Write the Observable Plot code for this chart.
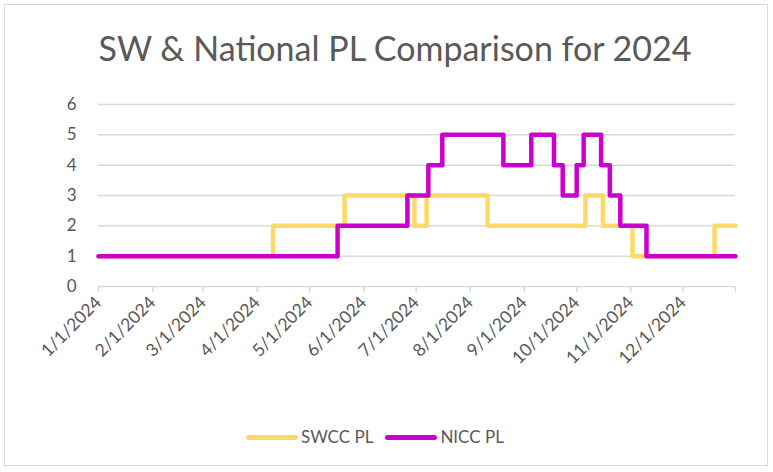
<!DOCTYPE html>
<html>
<head>
<meta charset="utf-8">
<script src="https://cdn.jsdelivr.net/npm/d3@7"></script>
<script src="https://cdn.jsdelivr.net/npm/@observablehq/plot@0.6"></script>
<style>
  html, body { margin: 0; padding: 0; background: #fff; }
  #wrap { position: relative; width: 773px; height: 472px; overflow: hidden; font-family: Lato, "Open Sans", sans-serif; color: #595959; }
  #frame { position: absolute; left: 4px; top: 4px; width: 764px; height: 462px; border: 1px solid #d9d9d9; box-sizing: border-box; pointer-events: none; }
  #title { position: absolute; left: 0; top: 26px; width: 790px; text-align: center; font-size: 34px; line-height: 44px; color: #595959; }
  #chart { position: absolute; left: 0; top: 90px; }
  #legend { position: absolute; left: 246px; top: 426px; font-size: 17px; line-height: 22px; white-space: nowrap; }
  .sw { display: inline-block; width: 52px; height: 5px; border-radius: 2.5px; vertical-align: middle; margin-right: 3px; position: relative; top: -1px; }
  .item { display: inline-block; margin-right: 12px; }
</style>
</head>
<body>
<div id="wrap">
  <div id="frame"></div>
  <div id="title">SW &amp; National PL Comparison for 2024</div>
  <div id="chart"></div>
  <div id="legend"></div>
</div>
<script>
// Series: dates where the level changes (step-after), last entry = end of year
const swccDates  = ["2024-01-01","2024-04-10","2024-05-21","2024-06-30","2024-07-07","2024-08-11","2024-10-06","2024-10-16","2024-11-02","2024-12-19","2024-12-31"];
const swccValues = [1, 2, 3, 2, 3, 2, 3, 2, 1, 2, 2];
const niccDates  = ["2024-01-01","2024-05-17","2024-06-26","2024-07-08","2024-07-16","2024-08-20","2024-09-05","2024-09-18","2024-09-23","2024-10-01","2024-10-05","2024-10-15","2024-10-20","2024-10-26","2024-11-10","2024-12-31"];
const niccValues = [1, 2, 3, 4, 5, 4, 5, 4, 3, 4, 5, 4, 3, 2, 1, 1];
const seriesNames = ["SWCC PL", "NICC PL"];
const seriesColors = ["#FFD966", "#CC00CC"];
const monthTicks = ["2024-01-01","2024-02-01","2024-03-01","2024-04-01","2024-05-01","2024-06-01","2024-07-01","2024-08-01","2024-09-01","2024-10-01","2024-11-01","2024-12-01"];
const yTicks = [0, 1, 2, 3, 4, 5, 6];
const xEnd = "2024-12-31";

const parse = d3.utcParse("%Y-%m-%d");
const swcc = swccDates.map((d, i) => ({date: parse(d), value: swccValues[i]}));
const nicc = niccDates.map((d, i) => ({date: parse(d), value: niccValues[i]}));
const ticks = monthTicks.map(parse);
const fmt = d3.utcFormat("%-m/%-d/%Y");

const chart = Plot.plot({
  width: 773,
  height: 300,
  marginLeft: 98,
  marginRight: 38,
  marginTop: 14,
  marginBottom: 104,
  style: {fontFamily: "Lato, 'Open Sans', sans-serif", color: "#595959", background: "transparent"},
  x: {type: "utc", domain: [parse(monthTicks[0]), parse(xEnd)]},
  y: {domain: [0, 6]},
  marks: [
    Plot.gridY(yTicks.filter(d => d > 0), {stroke: "#d9d9d9", strokeOpacity: 1, strokeWidth: 1.5}),
    Plot.ruleY([0], {stroke: "#d9d9d9", strokeWidth: 1.5}),
    Plot.axisX([...ticks, parse(xEnd)], {text: null, tickSize: 6, stroke: "#d9d9d9", strokeWidth: 1.5, label: null}),
    Plot.axisX(ticks, {tickSize: 0, tickRotate: -45, tickPadding: 13, tickFormat: fmt, fontSize: 17.5, fill: "#595959", label: null}),
    Plot.axisY(yTicks, {tickSize: 0, tickPadding: 22, fontSize: 17, fill: "#595959", label: null}),
    Plot.line(swcc, {x: "date", y: "value", curve: "step-after", stroke: seriesColors[0], strokeWidth: 4.5}),
    Plot.line(nicc, {x: "date", y: "value", curve: "step-after", stroke: seriesColors[1], strokeWidth: 4.5})
  ]
});
document.getElementById("chart").appendChild(chart);

const legend = document.getElementById("legend");
seriesNames.forEach((name, i) => {
  const item = document.createElement("span");
  item.className = "item";
  const sw = document.createElement("span");
  sw.className = "sw";
  sw.style.background = seriesColors[i];
  item.appendChild(sw);
  item.appendChild(document.createTextNode(name));
  legend.appendChild(item);
});
</script>
</body>
</html>
